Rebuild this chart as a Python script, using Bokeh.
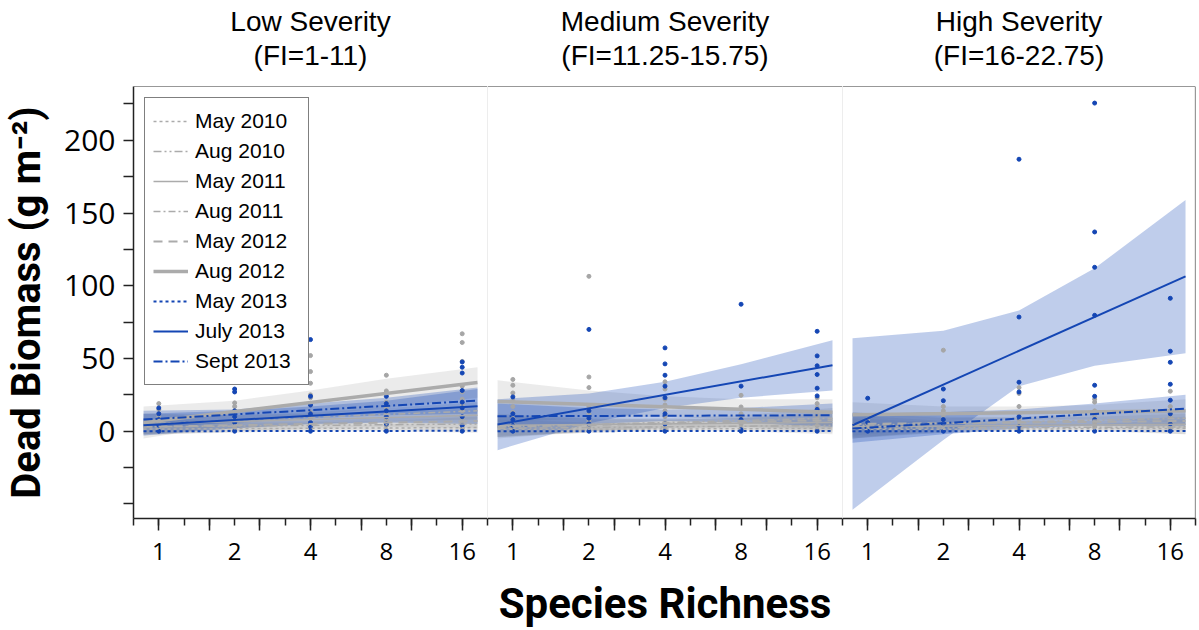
from bokeh.plotting import figure
from bokeh.models import Range1d, FixedTicker, Span, Title
from bokeh.layouts import gridplot
from bokeh.embed import file_html
from bokeh.resources import INLINE

# ---------------- data ----------------
panel_titles = ["Low Severity", "Medium Severity", "High Severity"]
panel_subtitles = ["(FI=1-11)", "(FI=11.25-15.75)", "(FI=16-22.75)"]
series_names = ["May 2010", "Aug 2010", "May 2011", "Aug 2011", "May 2012",
                "Aug 2012", "May 2013", "July 2013", "Sept 2013"]
richness_levels = [1, 2, 4, 8, 16]
x_tick_labels = ["1", "2", "4", "8", "16"]
y_ticks = [-50, -25, 0, 25, 50, 75, 100, 125, 150, 175, 200, 225]
y_tick_labels = ["", "", "0", "", "50", "", "100", "", "150", "", "200", ""]

fit_x = [0.87, 18.4]              # extent of fitted lines (species richness)
band_x = [0.87, 2, 4, 8, 18.4]    # where confidence band limits were read

# fitted line values at fit_x ends, one per series
low_start = [1.5, 3, 5, 5, 3, 6, 0, 4.1, 8]
low_end = [2.5, 5, 11, 14, 7, 33.5, 0.3, 17.2, 21]
med_start = [1, 2, 4, 3, 3, 20.5, 0, 4.6, 10.3]
med_end = [2, 4, 6, 9, 7.6, 13, 0.2, 45.4, 11]
high_start = [1, 2, 3, 4, 5, 11.4, 0, 4.1, 1.8]
high_end = [2, 3, 4.8, 9, 7, 14, 0.2, 106.5, 15.6]

# confidence band limits at band_x, one row per series
low_lower = [[-2, -1, 0, 0, -1], [-2, 0, 1, 1, 0], [-2, 2, 4, 6, 6], [-2, 2, 5, 7, 8],
             [-3, 0, 2, 3, 2], [-5, 5, 11, 16, 23], [-1, -0.5, -0.5, -0.5, -1],
             [-3, 2, 5, 6, 5], [2, 6, 9, 11, 12]]
low_upper = [[5, 4, 4, 5, 6], [8, 6, 6, 7, 10], [12, 11, 12, 13, 16], [12, 11, 13, 16, 20],
             [9, 7, 7, 9, 12], [17, 21, 28, 36, 44], [1, 1, 1, 1, 1.5],
             [12, 14, 17, 21, 29], [14, 15, 19, 23, 30]]
med_lower = [[-3, -1, 0, 0, -2], [-4, -1, 1, 1, -1], [-4, 0, 2, 2, 0], [-5, 0, 3, 3, 2],
             [-4, 0, 2, 3, 1], [6, 9, 10, 8, 4], [-1, -0.5, -0.5, -0.5, -1],
             [-13, 5.5, 16, 23, 28], [2, 5, 7, 6, 3]]
med_upper = [[5, 4, 3, 4, 6], [8, 6, 5, 6, 9], [12, 9, 8, 9, 12], [11, 9, 9, 11, 16],
             [10, 8, 8, 9, 14], [35, 28, 24, 22, 22], [1, 1, 1, 1, 1.5],
             [22, 26, 34, 46, 62.5], [19, 16, 15, 16, 19]]
high_lower = [[-4, -1, 0, 0, -2], [-5, -1, 1, 1, -2], [-5, 0, 2, 2, 0], [-5, 1, 4, 4, 3],
              [-3, 2, 4, 4, 2], [3, 7, 8, 8, 6], [-1, -0.5, -0.5, -0.5, -1],
              [-54, -6, 31, 45, 53.6], [-8, -2, 2, 4, 4]]
high_upper = [[6, 4, 4, 4, 6], [9, 6, 5, 5, 8], [11, 7, 7, 7, 10], [13, 9, 10, 12, 15],
              [13, 10, 9, 10, 12], [20, 17, 17, 18, 22], [1, 1, 1, 1, 1.5],
              [64, 69, 83, 112, 159], [12, 13, 15, 19, 25]]

# observed points, one list per richness level
low_gray_pts = [[36, 19, 15, 12, 10, 8, 6, 4, 2, 0], [19.5, 17, 14, 11, 8, 5, 3, 1],
                [52, 41, 33, 25, 23, 18, 13, 9, 5, 2], [38.5, 27.7, 20, 16, 12, 8, 4, 1],
                [67, 61, 48, 31, 27, 22, 18, 14, 9, 5, 2]]
low_blue_pts = [[16, 12, 8, 4, 0], [29, 27, 14, 10, 6, 0], [63, 24, 18, 12, 6, 3, 0],
                [24, 19, 14, 10, 5, 0], [47.6, 44, 40, 28, 20, 16, 10, 4, 0]]
med_gray_pts = [[35.6, 31.6, 26.3, 21, 17, 13, 9, 5, 2], [106.5, 37.3, 30, 17, 12, 7, 3],
                [34, 29, 22, 18, 14, 10, 6, 3, 1], [24.7, 16.7, 12, 9, 5, 2],
                [23, 19, 16, 13, 10, 7, 4, 1]]
med_blue_pts = [[23.6, 12, 8, 4, 0], [70, 14, 9, 5, 0], [57.3, 46.3, 38.5, 31, 23, 12, 5, 0],
                [87.3, 31, 8, 1, 0], [68.7, 51.8, 45, 39, 29.6, 24.3, 15, 0]]
high_gray_pts = [[8, 5, 2], [55.7, 17, 14, 11, 8, 4, 1], [30, 26, 17, 12, 8, 4, 1],
                 [22, 20, 14, 10, 6, 3], [27.5, 17, 14, 10, 6, 3, 1]]
high_blue_pts = [[22.7, 6, 0], [29, 21, 8, 5, 0], [187, 78.5, 33.7, 27, 10, 3, 0],
                 [225.6, 137, 112.7, 79.7, 31.6, 24, 8, 0], [91.4, 55, 47.4, 32.3, 21.3, 12, 5, 0]]

# ---------------- styles ----------------
BLUE = "#1446b4"
GRAY = "#ababab"
series_color = [GRAY] * 6 + [BLUE] * 3
series_dash = ["3 3", "8 3 2 3 2 3", "solid", "7 3 2 3", "9 6", "solid", "3 3", "solid", "9 3 2 3"]
series_width = [1.5, 1.5, 1.5, 1.5, 2, 3.5, 2, 2, 2]

panels = [
    (low_start, low_end, low_lower, low_upper, low_gray_pts, low_blue_pts),
    (med_start, med_end, med_lower, med_upper, med_gray_pts, med_blue_pts),
    (high_start, high_end, high_lower, high_upper, high_gray_pts, high_blue_pts),
]

X0, X1 = 2 ** (-1 / 3), 2 ** (13 / 3)
x_all_ticks = [2 ** (k / 3) for k in range(-1, 14)]
x_long_ticks = [2 ** (k / 3) for k in range(0, 13, 2)]
x_overrides = {t: "" for t in x_all_ticks}
for r, lab in zip(richness_levels, x_tick_labels):
    x_overrides[float(r)] = lab

y_range = Range1d(-60, 237)
frame_widths = [354, 355, 353]
FONT_NUM = "Open Sans"

figs = []
for i, (st, en, lo, up, gpts, bpts) in enumerate(panels):
    p = figure(x_axis_type="log", x_range=Range1d(X0, X1), y_range=y_range,
               frame_width=frame_widths[i], frame_height=432,
               output_backend="svg", toolbar_location=None, title=None,
               y_axis_location="left" if i == 0 else None,
               min_border_left=132 if i == 0 else 0,
               min_border_right=2 if i == 2 else 0,
               min_border_top=86, min_border_bottom=110)
    p.outline_line_color = None
    p.grid.visible = False
    p.background_fill_color = "white"
    p.border_fill_color = "white"

    title_style = dict(align="center", text_font="Liberation Sans", text_font_size="28px",
                       text_font_style="normal", text_color="black")
    # small blank spacer between the frame and the headings
    p.add_layout(Title(text=" ", align="center", text_font_size="12px", standoff=0), "above")
    p.add_layout(Title(text=panel_subtitles[i], standoff=0, **title_style), "above")
    p.add_layout(Title(text=panel_titles[i], standoff=1, **title_style), "above")

    # confidence bands
    for s in range(9):
        if s != 6 and series_color[s] == GRAY:
            p.varea(x=band_x, y1=lo[s], y2=up[s], fill_color="#9a9a9a", fill_alpha=0.2)
    for s in range(9):
        if s != 6 and series_color[s] == BLUE:
            p.varea(x=band_x, y1=lo[s], y2=up[s], fill_color=BLUE, fill_alpha=0.27)

    # points
    gx, gy, bx, by = [], [], [], []
    for r, vals in zip(richness_levels, gpts):
        gx += [r] * len(vals)
        gy += vals
    for r, vals in zip(richness_levels, bpts):
        bx += [r] * len(vals)
        by += vals
    p.scatter(gx, gy, size=4, marker="circle", color="#a6a6a6")
    p.scatter(bx, by, size=4, marker="circle", color=BLUE)

    # fitted lines
    for s in range(9):
        kw = dict(line_color=series_color[s], line_width=series_width[s], line_dash=series_dash[s])
        if i == 0:
            kw["legend_label"] = series_names[s]
        p.line(fit_x, [st[s], en[s]], **kw)

    # frame edges
    p.add_layout(Span(location=237, dimension="width", line_color="#333333", line_width=1.2))
    if i > 0:
        p.add_layout(Span(location=X0, dimension="height", line_color="#dcdcdc", line_width=1))
    if i == 2:
        p.add_layout(Span(location=X1, dimension="height", line_color="#333333", line_width=1.2))

    # x axis
    ax = p.xaxis[0]
    ax.ticker = FixedTicker(ticks=x_all_ticks, minor_ticks=x_long_ticks)
    ax.major_label_overrides = x_overrides
    ax.major_tick_out = 7
    ax.major_tick_in = 0
    ax.minor_tick_out = 12
    ax.minor_tick_in = 0
    ax.axis_line_color = "#222222"
    ax.axis_line_width = 1.5
    ax.major_tick_line_color = "#222222"
    ax.major_tick_line_width = 1.5
    ax.minor_tick_line_color = "#222222"
    ax.minor_tick_line_width = 1.5
    ax.major_label_text_font = FONT_NUM
    ax.major_label_text_font_size = "24px"
    ax.major_label_text_color = "black"
    ax.major_label_standoff = 12
    if i == 1:
        ax.axis_label = "Species Richness"
        ax.axis_label_text_font = "Roboto"
        ax.axis_label_text_font_size = "42px"
        ax.axis_label_text_font_style = "bold"
        ax.axis_label_text_color = "black"
        ax.axis_label_standoff = 16

    if i == 0:
        ay = p.yaxis[0]
        ay.ticker = FixedTicker(ticks=y_ticks, minor_ticks=[])
        ay.major_label_overrides = {t: lab for t, lab in zip(y_ticks, y_tick_labels)}
        ay.major_tick_out = 10
        ay.major_tick_in = 0
        ay.minor_tick_out = 0
        ay.axis_line_color = "#222222"
        ay.axis_line_width = 1.5
        ay.major_tick_line_color = "#222222"
        ay.major_tick_line_width = 1.5
        ay.major_label_text_font = FONT_NUM
        ay.major_label_text_font_size = "30px"
        ay.major_label_text_color = "black"
        ay.major_label_standoff = 8
        ay.axis_label = "Dead Biomass (g m\u207b\u00b2)"
        ay.axis_label_text_font = "Roboto"
        ay.axis_label_text_font_size = "40px"
        ay.axis_label_text_font_style = "bold"
        ay.axis_label_text_color = "black"
        ay.axis_label_standoff = 11

        lg = p.legend[0]
        lg.location = "top_left"
        lg.margin = 11
        lg.padding = 8
        lg.spacing = 0
        lg.label_height = 30
        lg.label_width = 105
        lg.glyph_width = 35
        lg.glyph_height = 20
        lg.label_standoff = 7
        lg.label_text_font = "Liberation Sans"
        lg.label_text_font_size = "21px"
        lg.label_text_color = "black"
        lg.border_line_color = "black"
        lg.border_line_width = 1.5
        lg.background_fill_alpha = 1.0
    figs.append(p)

grid = gridplot([figs], toolbar_location=None)
open("out.html", "w").write(file_html(grid, INLINE))
